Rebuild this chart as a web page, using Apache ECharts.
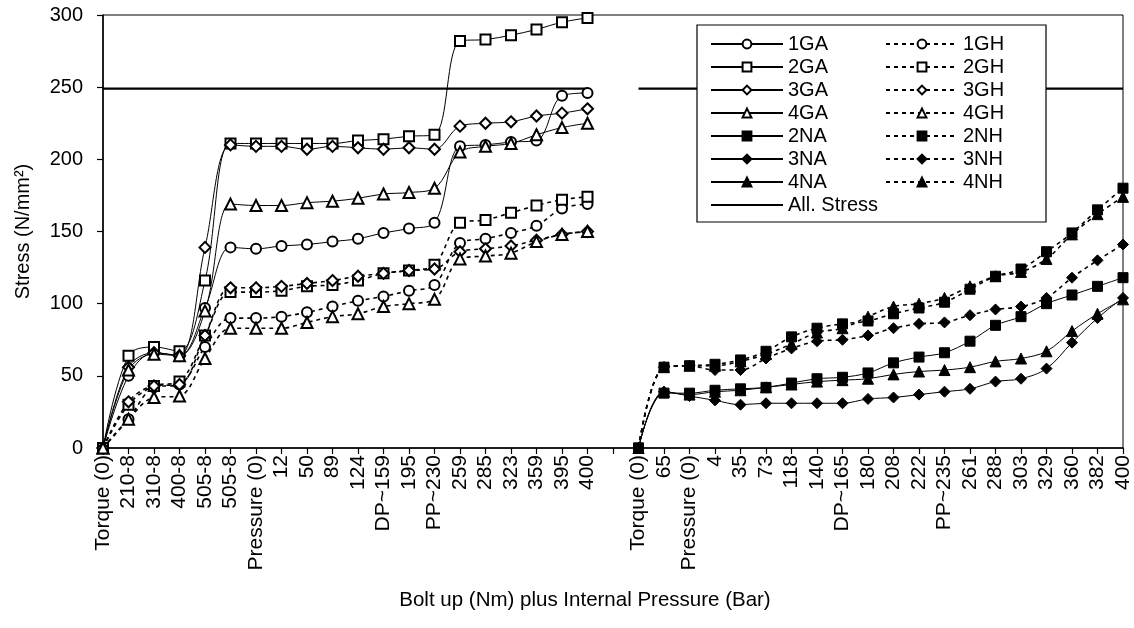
<!DOCTYPE html>
<html>
<head>
<meta charset="utf-8">
<script src="https://cdn.jsdelivr.net/npm/echarts@6/dist/echarts.min.js"></script>
<style>
html,body{margin:0;padding:0;background:#fff;}
#chart{width:1134px;height:628px;}
</style>
</head>
<body>
<div id="chart"></div>
<script>
// ---- categories (left: G series, right: N series, one empty gap between) ----
const leftCats = ['Torque (0)','210-8','310-8','400-8','505-8','505-8','Pressure (0)','12','50','89','124','DP~159','195','PP~230','259','285','323','359','395','400'];
const gapCats = [''];
const rightCats = ['Torque (0)','65','Pressure (0)','4','35','73','118','140','DP~165','180','208','222','PP~235','261','288','303','329','360','382','400'];

// ---- left section values ----
const s1GA = [0, 50, 66, 64, 97, 139, 138, 140, 141, 143, 145, 149, 152, 156, 209, 210, 212, 213, 244, 246];
const s2GA = [0, 64, 70, 67, 116, 211, 211, 211, 211, 211, 213, 214, 216, 217, 282, 283, 286, 290, 295, 298];
const s3GA = [0, 56, 66, 64, 139, 210, 209, 209, 207, 209, 208, 207, 208, 207, 223, 225, 226, 230, 232, 235];
const s4GA = [0, 54, 65, 64, 95, 169, 168, 168, 170, 171, 173, 176, 177, 180, 205, 209, 211, 217, 222, 225];
const s1GH = [0, 20, 42, 44, 70, 90, 90, 91, 94, 98, 102, 105, 109, 113, 142, 145, 149, 154, 166, 169];
const s2GH = [0, 30, 43, 46, 78, 108, 108, 109, 112, 113, 116, 121, 123, 127, 156, 158, 163, 168, 172, 174];
const s3GH = [0, 32, 43, 44, 78, 111, 111, 112, 114, 116, 119, 121, 123, 124, 136, 138, 140, 144, 148, 150];
const s4GH = [0, 20, 35, 36, 62, 83, 83, 83, 87, 91, 93, 98, 100, 103, 131, 133, 135, 143, 148, 150];

// ---- right section values ----
const s2NA = [0, 38, 38, 40, 41, 42, 45, 48, 49, 52, 59, 63, 66, 74, 85, 91, 100, 106, 112, 118];
const s3NA = [0, 39, 36, 33, 30, 31, 31, 31, 31, 34, 35, 37, 39, 41, 46, 48, 55, 73, 90, 104];
const s4NA = [0, 39, 37, 39, 40, 42, 44, 46, 47, 48, 51, 53, 54, 56, 60, 62, 67, 81, 93, 103];
const s2NH = [0, 56, 57, 58, 61, 67, 77, 83, 86, 88, 93, 97, 101, 110, 119, 124, 136, 149, 165, 180];
const s3NH = [0, 56, 57, 54, 54, 62, 69, 74, 75, 78, 83, 86, 87, 92, 96, 98, 104, 118, 130, 141];
const s4NH = [0, 56, 57, 57, 60, 65, 72, 80, 83, 91, 98, 100, 104, 112, 119, 122, 131, 148, 162, 174];

// ---- allowable stress ----
const allStressLeft  = [249,249,249,249,249,249,249,249,249,249,249,249,249,249,249,249,249,249,249,249];
const allStressRight = [249,249,249,249,249,249,249,249,249,249,249,249,249,249,249,249,249,249,249,249];

const yTicks = [0, 50, 100, 150, 200, 250, 300];

const categories = leftCats.concat(gapCats, rightCats);
const nulls = n => new Array(n).fill(null);
const leftSeries  = v => v.concat(nulls(gapCats.length + rightCats.length));
const rightSeries = v => nulls(leftCats.length + gapCats.length).concat(v);

const FONT = "'Liberation Sans', Arial, sans-serif";
const solid = {color:'#000', width:1, type:'solid'};
const dashed = {color:'#000', width:1.6, type:[4,4]};

function mk(name, data, symbol, size, ls){
  return {
    name, type:'line', data, symbol, symbolSize:size, smooth:0.35,
    showAllSymbol:true, connectNulls:false,
    lineStyle: ls, itemStyle:{color:'#000', borderColor:'#000', borderWidth:1},
    emphasis:{disabled:true}, z:2
  };
}

const series = [
  mk('1GA', leftSeries(s1GA), 'emptyCircle', 10, solid),
  mk('2GA', leftSeries(s2GA), 'emptyRect', 10, solid),
  mk('3GA', leftSeries(s3GA), 'emptyDiamond', 11, solid),
  mk('4GA', leftSeries(s4GA), 'emptyTriangle', 11, solid),
  mk('2NA', rightSeries(s2NA), 'rect', 10, solid),
  mk('3NA', rightSeries(s3NA), 'diamond', 11, solid),
  mk('4NA', rightSeries(s4NA), 'triangle', 11, solid),
  mk('1GH', leftSeries(s1GH), 'emptyCircle', 10, dashed),
  mk('2GH', leftSeries(s2GH), 'emptyRect', 10, dashed),
  mk('3GH', leftSeries(s3GH), 'emptyDiamond', 11, dashed),
  mk('4GH', leftSeries(s4GH), 'emptyTriangle', 11, dashed),
  mk('2NH', rightSeries(s2NH), 'rect', 10, dashed),
  mk('3NH', rightSeries(s3NH), 'diamond', 11, dashed),
  mk('4NH', rightSeries(s4NH), 'triangle', 11, dashed),
  {
    name:'All. Stress', type:'line', symbol:'none',
    data: allStressLeft.concat([null], allStressRight),
    lineStyle:{color:'#000', width:2.2}, itemStyle:{color:'#000'},
    emphasis:{disabled:true}, z:2
  }
];

const legendText = {fontFamily:FONT, fontSize:20, color:'#000'};
const option = {
  animation:false,
  backgroundColor:'#fff',
  textStyle:{fontFamily:FONT},
  grid:{left:103, right:11, top:15, bottom:180, show:true, borderColor:'#000', borderWidth:1, backgroundColor:'transparent'},
  xAxis:{
    type:'category', data:categories, boundaryGap:false,
    axisLine:{lineStyle:{color:'#000', width:1.5}},
    axisTick:{show:true, interval:0, length:6, lineStyle:{color:'#000', width:1.2}},
    axisLabel:{interval:0, rotate:90, fontSize:21, color:'#000', fontFamily:FONT, margin:7},
    splitLine:{show:false}
  },
  yAxis:{
    type:'value', min:yTicks[0], max:yTicks[yTicks.length-1], interval:50,
    name:'Stress (N/mm²)', nameLocation:'middle', nameGap:70,
    nameTextStyle:{fontSize:20, color:'#000', fontFamily:FONT},
    axisLine:{show:true, lineStyle:{color:'#000', width:1.5}},
    axisTick:{show:true, length:6, lineStyle:{color:'#000', width:1.2}},
    axisLabel:{fontSize:20, color:'#000', fontFamily:FONT, margin:20},
    splitLine:{show:false}
  },
  legend:[
    {
      orient:'vertical', left:705, top:29, itemWidth:72, itemHeight:11, itemGap:3,
      textStyle:legendText, selectedMode:false,
      data:['1GA','2GA','3GA','4GA','2NA','3NA','4NA',
            {name:'All. Stress', icon:'path://M0,0 L72,0 L72,2.2 L0,2.2 Z'}]
    },
    {
      orient:'vertical', left:880, top:29, itemWidth:72, itemHeight:11, itemGap:3,
      textStyle:legendText, selectedMode:false,
      data:['1GH','2GH','3GH','4GH','2NH','3NH','4NH']
    }
  ],
  graphic:[
    {type:'rect', z:3, shape:{x:697, y:25, width:349, height:197}, style:{fill:'#fff', stroke:'#000', lineWidth:1.2}},
    {type:'text', z:3, x:585, y:600, style:{text:'Bolt up (Nm) plus Internal Pressure (Bar)', font:"20.5px 'Liberation Sans', Arial, sans-serif", fill:'#000', textAlign:'center', textVerticalAlign:'middle'}}
  ],
  series
};

const chart = echarts.init(document.getElementById('chart'), null, {renderer:'canvas'});
chart.setOption(option);
</script>
</body>
</html>
